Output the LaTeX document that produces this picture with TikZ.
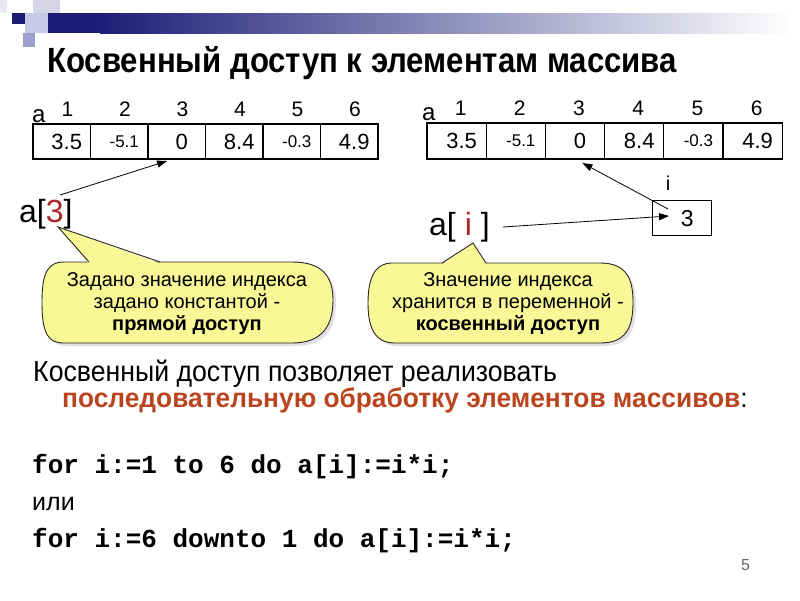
\documentclass[tikz,border=0pt]{standalone}
\usepackage{fontspec}
\usepackage{graphicx}
\setmainfont{Liberation Sans}
\setmonofont{Liberation Mono}
\usetikzlibrary{arrows.meta,calc}
\definecolor{navy}{RGB}{28,30,118}
\definecolor{sqa}{RGB}{214,214,230}
\definecolor{sqb}{RGB}{200,200,232}
\definecolor{sqc}{RGB}{160,160,208}
\definecolor{sqd}{RGB}{232,232,242}
\definecolor{bubblecol}{RGB}{250,248,150}
\definecolor{idxred}{RGB}{172,36,40}
\definecolor{brownred}{RGB}{186,68,30}
\begin{document}
\begin{tikzpicture}[x=1pt,y=-1pt,
  cellbox/.style={draw, line width=1.3pt, minimum width=#1, minimum height=35pt, inner sep=0pt, outer sep=0pt, anchor=north west},
  idxnum/.style={font=\fontsize{21}{21}\selectfont, anchor=base},
  vbig/.style={font=\fontsize{22}{22}\selectfont},
  vsmall/.style={font=\fontsize{17}{17}\selectfont},
  arr/.style={line width=0.8pt, -{Triangle[length=10pt,width=7pt]}},
  bubbleshape/.style={fill=bubblecol, draw=black!85, line width=0.9pt},
  btext/.style={align=center, font=\fontsize{20}{22}\selectfont},
  shadowcol/.style={fill=black!12}
]
\useasboundingbox (0,0) rectangle (800,600);
% header decoration
\fill[sqd] (0,0) rectangle (7,13);
\fill[sqa] (33,0) rectangle (60,13);
\fill[navy] (12,13) rectangle (25,24);
\fill[sqb] (25,13) rectangle (48,33);
\fill[sqc] (23,33) rectangle (35,47);
\fill[navy] (48,13) rectangle (100,33);
\shade[left color=navy, right color=white] (100,13) rectangle (792,33);
% title
\node[anchor=base west, inner sep=0pt, font=\fontsize{35}{40}\selectfont\bfseries] (title) at (47,72) {\scalebox{0.89}[1]{Косвенный доступ к элементам массива}};

% left array
\node[anchor=base west, inner sep=0pt, font=\fontsize{24}{24}\selectfont] (La) at (32,122) {a};
\foreach \i/\v/\st in {1/3.5/vbig,2/-5.1/vsmall,3/0/vbig,4/8.4/vbig,5/-0.3/vsmall,6/4.9/vbig}{
  \node[cellbox=57.5pt] (L\i) at ({33+(\i-1)*57.5},124) {};
  \node[\st] (LV\i) at ($(L\i.center)+(5,0)$) {\v};
  \node[idxnum] (LI\i) at ({61.5+(\i-1)*57.5+6},116) {\i};
}
% right array
\node[anchor=base west, inner sep=0pt, font=\fontsize{24}{24}\selectfont] (Ra) at (422,120) {a};
\foreach \i/\v/\st in {1/3.5/vbig,2/-5.1/vsmall,3/0/vbig,4/8.4/vbig,5/-0.3/vsmall,6/4.9/vbig}{
  \node[cellbox=59.2pt, minimum height=36pt] (R\i) at ({427+(\i-1)*59.2},123) {};
  \node[\st] (RV\i) at ($(R\i.center)+(5,0)$) {\v};
  \node[idxnum] (RI\i) at ({456.6+(\i-1)*59.2+4},115) {\i};
}
% variable i
\node[draw, line width=1.3pt, minimum width=59pt, minimum height=35pt, inner sep=0pt, anchor=north west] (ibox) at (652,200) {};
\node[font=\fontsize{23}{23}\selectfont] (ival) at ($(ibox.center)+(5,0)$) {3};
\node[anchor=base, font=\fontsize{20}{20}\selectfont] (ilab) at (668,190) {i};

% a[3]
\node[anchor=base west, inner sep=0pt, font=\fontsize{32}{32}\selectfont] (a3) at (19,222) {a[\textcolor{idxred}{3}]};
% a[ i ]
\node[anchor=base west, inner sep=0pt, font=\fontsize{32}{32}\selectfont] (ai) at (429,235) {a[ \textcolor{idxred}{i} ]};

\coordinate (a3src) at (60,195);
\coordinate (aisrc) at (503,227);
\coordinate (iin) at (669,216);
\coordinate (iout) at (668,209);
\draw[arr] (a3src) -- ($(L3.south west)+(19,2)$);
\draw[arr] (aisrc) -- (iin);
\draw[arr] (iout) -- ($(R3.south west)+(37,4)$);

% left bubble (slightly bulging sides)
\fill[shadowcol, shift={(3,3)}] (64,262) -- (292,262) .. controls (322,262) and (333,276) .. (333,300) .. controls (333,326) and (322,343) .. (292,343) -- (64,343) .. controls (48,343) and (42,334) .. (42,302) .. controls (42,272) and (48,262) .. (64,262) -- cycle;
\draw[bubbleshape] (64,262) -- (292,262) .. controls (322,262) and (333,276) .. (333,300) .. controls (333,326) and (322,343) .. (292,343) -- (64,343) .. controls (48,343) and (42,334) .. (42,302) .. controls (42,272) and (48,262) .. (64,262) -- cycle;
\coordinate (ltip) at (58,227);
\fill[bubblecol] (89,263.5) -- (ltip) -- (160,263.5) -- cycle;
\draw[line width=0.9pt, draw=black!85, line join=miter] (89,262) -- (ltip) -- (160,262);
\node[btext] (lbt) at (187,304) {Задано значение индекса\\задано константой -\\\textbf{прямой доступ}};

% right bubble
\fill[shadowcol, shift={(3,3)}] (392,263) -- (600,263) .. controls (626,263) and (633,278) .. (633,302) .. controls (633,328) and (626,343) .. (600,343) -- (395,343) .. controls (376,343) and (368,330) .. (368,303) .. controls (368,276) and (376,263) .. (392,263) -- cycle;
\draw[bubbleshape] (392,263) -- (600,263) .. controls (626,263) and (633,278) .. (633,302) .. controls (633,328) and (626,343) .. (600,343) -- (395,343) .. controls (376,343) and (368,330) .. (368,303) .. controls (368,276) and (376,263) .. (392,263) -- cycle;
\coordinate (rtip) at (473,243);
\fill[bubblecol] (442,264.5) -- (rtip) -- (486,264.5) -- cycle;
\draw[line width=0.9pt, draw=black!85] (442,263) -- (rtip) -- (486,263);
\node[btext] (rbt) at (508,304) {Значение индекса\\хранится в переменной -\\\textbf{косвенный доступ}};

% bottom texts
\node[anchor=base west, inner sep=0pt, font=\fontsize{29}{30}\selectfont] (t1) at (33,381) {\scalebox{0.92}[1]{Косвенный доступ позволяет реализовать}};
\node[anchor=base west, inner sep=0pt, font=\fontsize{27}{30}\selectfont\bfseries, text=brownred] (t2) at (62,407) {\scalebox{0.975}[1]{последовательную обработку элементов массивов\textcolor{black}{\mdseries:}}};
\node[anchor=base west, inner sep=0pt, font=\fontsize{26}{28}\selectfont\ttfamily\bfseries] (c1) at (32,473) {for i:=1 to 6 do a[i]:=i*i;};
\node[anchor=base west, inner sep=0pt, font=\fontsize{25}{28}\selectfont] (ili) at (32,510) {или};
\node[anchor=base west, inner sep=0pt, font=\fontsize{26}{28}\selectfont\ttfamily\bfseries] (c2) at (32,547) {for i:=6 downto 1 do a[i]:=i*i;};
\node[anchor=base west, inner sep=0pt, font=\fontsize{16}{16}\selectfont, text=black!60] (pnum) at (741,570) {5};
\end{tikzpicture}
\end{document}
